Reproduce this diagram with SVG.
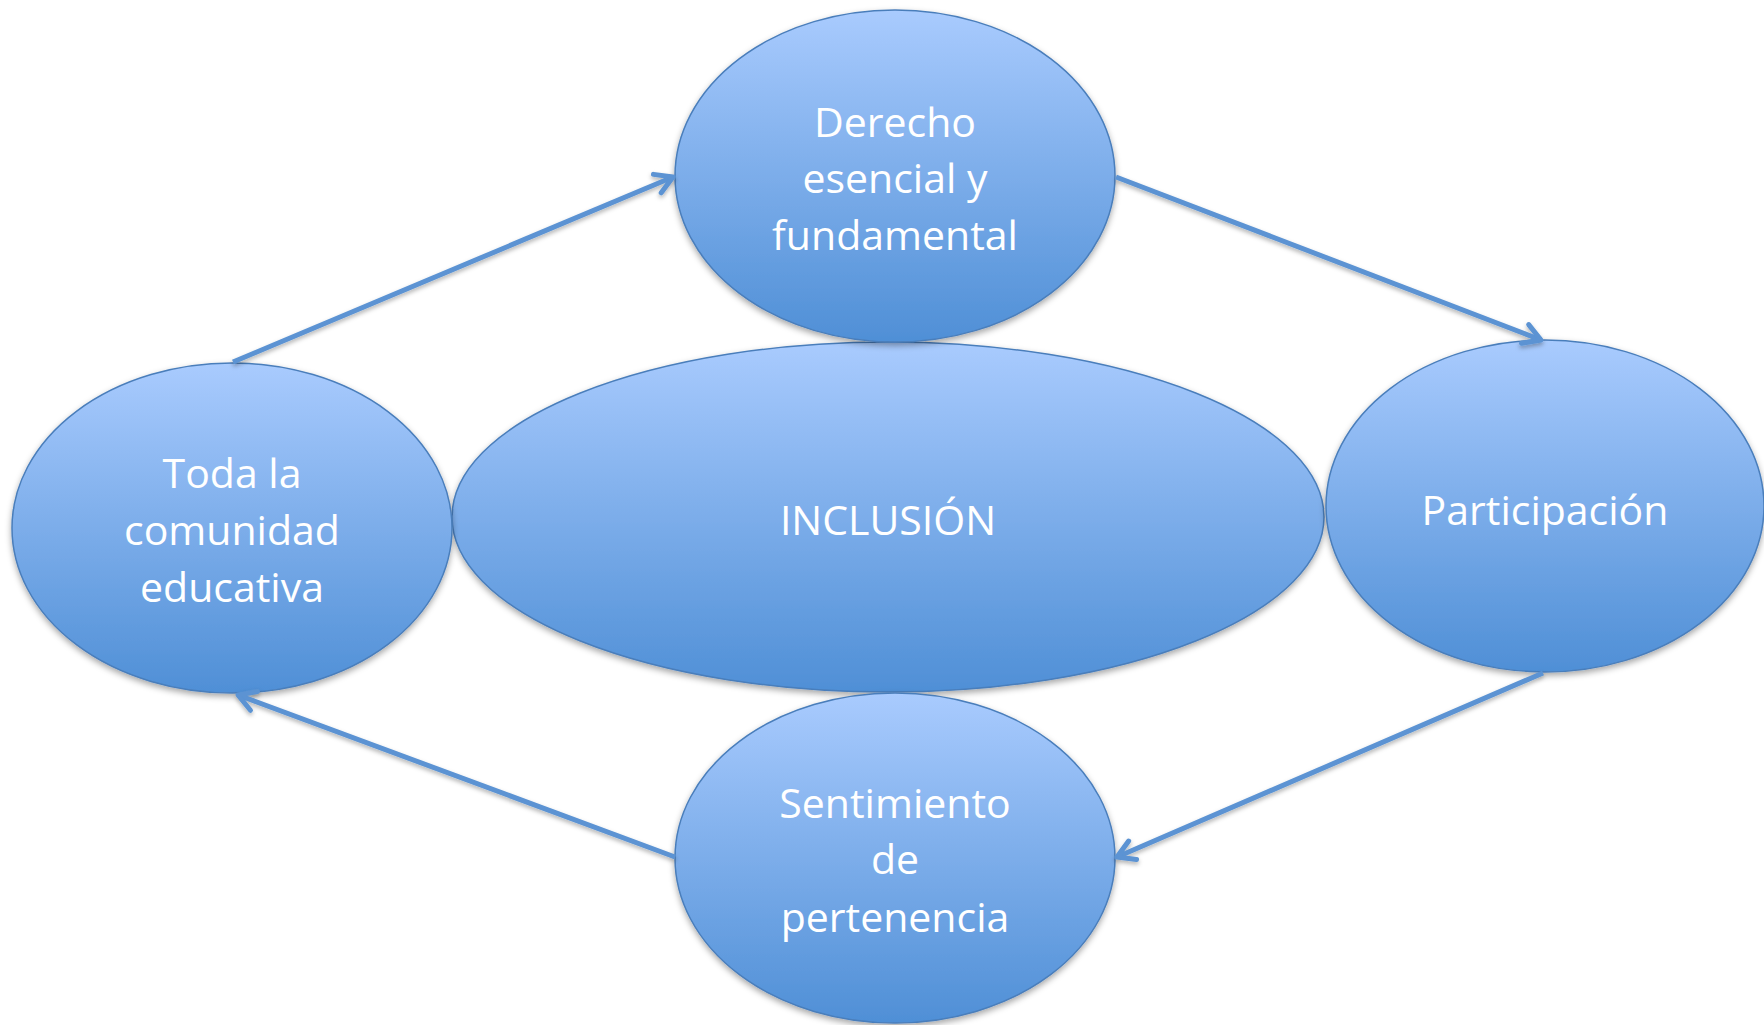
<svg xmlns="http://www.w3.org/2000/svg" width="1764" height="1025" viewBox="0 0 1764 1025">
  <defs>
    <linearGradient id="fill" x1="0" y1="0" x2="0" y2="1">
      <stop offset="0" stop-color="#a9cbfe"/>
      <stop offset="1" stop-color="#4f8fd6"/>
    </linearGradient>
    <filter id="shadow" x="-10%" y="-10%" width="120%" height="125%">
      <feDropShadow dx="0" dy="3" stdDeviation="3" flood-color="#000" flood-opacity="0.35"/>
    </filter>
    <filter id="lshadow" x="-10%" y="-20%" width="120%" height="140%">
      <feDropShadow dx="0" dy="2.5" stdDeviation="2" flood-color="#000" flood-opacity="0.3"/>
    </filter>
    <marker id="arrow" viewBox="0 0 26 26" refX="22" refY="13" markerWidth="26" markerHeight="26" markerUnits="userSpaceOnUse" orient="auto">
      <path d="M5,3 L22,13 L5,23" fill="none" stroke="#5b93d3" stroke-width="5" stroke-linecap="round" stroke-linejoin="round"/>
    </marker>
    <style>
      .node ellipse { fill: url(#fill); stroke: #4a7ebb; stroke-width: 1.5; filter: url(#shadow); }
      .node text { font-family: "Open Sans", "Liberation Sans", sans-serif; font-size: 41px; fill: #ffffff; text-anchor: middle; }
      .conn { filter: url(#lshadow); }
      .conn line { stroke: #5b93d3; stroke-width: 5; marker-end: url(#arrow); }
    </style>
  </defs>
  <rect width="1764" height="1025" fill="#ffffff"/>
  <g id="node-inclusion" class="node">
    <ellipse cx="888" cy="517" rx="436" ry="175"/>
    <text x="888" y="535">INCLUSIÓN</text>
  </g>
  <g id="node-derecho" class="node">
    <ellipse cx="895" cy="176" rx="220" ry="166"/>
    <text x="895" y="137">Derecho</text>
    <text x="895" y="193">esencial y</text>
    <text x="895" y="250">fundamental</text>
  </g>
  <g id="node-participacion" class="node">
    <ellipse cx="1545" cy="506" rx="219" ry="166"/>
    <text x="1545" y="525">Participación</text>
  </g>
  <g id="node-sentimiento" class="node">
    <ellipse cx="895" cy="858" rx="220" ry="165"/>
    <text x="895" y="818">Sentimiento</text>
    <text x="895" y="874">de</text>
    <text x="895" y="932">pertenencia</text>
  </g>
  <g id="node-comunidad" class="node">
    <ellipse cx="232" cy="528" rx="220" ry="165"/>
    <text x="232" y="488">Toda la</text>
    <text x="232" y="545">comunidad</text>
    <text x="232" y="602">educativa</text>
  </g>
  <g id="connectors" class="conn">
    <line x1="233" y1="362" x2="673" y2="177"/>
    <line x1="1116" y1="177" x2="1541" y2="340"/>
    <line x1="1543" y1="673" x2="1117" y2="857"/>
    <line x1="675" y1="857" x2="238" y2="695"/>
  </g>
</svg>
